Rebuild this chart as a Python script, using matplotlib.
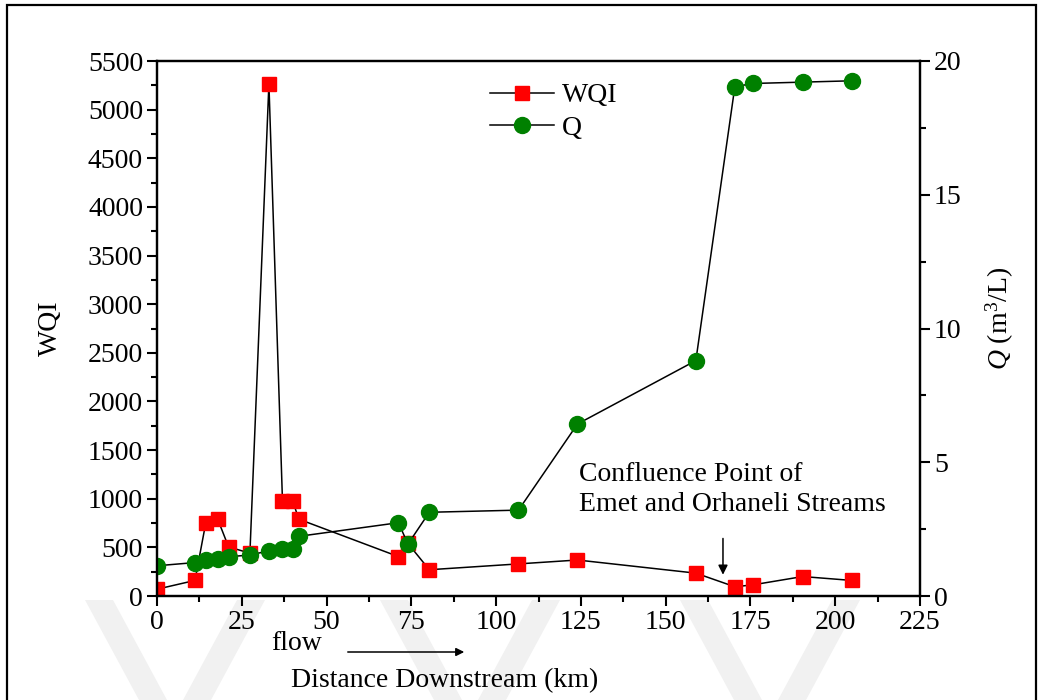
import matplotlib
matplotlib.use('Agg')
import matplotlib.pyplot as plt
from matplotlib.patches import Rectangle, Polygon, FancyArrowPatch
from matplotlib.ticker import MultipleLocator

# distance downstream (km) of the sampling points
distance = [0, 11.2, 14.4, 17.9, 21.1, 27.4, 33.0, 37.0, 40.0, 41.8,
            71.2, 74.0, 80.3, 106.6, 124.0, 158.9, 170.4, 175.8, 190.4, 204.9]
# water quality index
wqi = [70, 160, 755, 790, 505, 440, 5265, 980, 980, 790,
       405, 540, 270, 330, 370, 235, 95, 115, 200, 160]
# flow Q (m3/L)
q = [1.13, 1.25, 1.33, 1.38, 1.47, 1.53, 1.69, 1.74, 1.76, 2.23,
     2.74, 1.94, 3.13, 3.21, 6.43, 8.80, 19.04, 19.16, 19.21, 19.26]

plt.rcParams['font.family'] = 'Liberation Serif'
plt.rcParams['mathtext.fontset'] = 'custom'
plt.rcParams['mathtext.rm'] = 'Liberation Serif'
plt.rcParams['mathtext.it'] = 'Liberation Serif:italic'

FS = 20
fig = plt.figure(figsize=(10.46, 7), dpi=100)
W, H = 1046, 700

# faint watermark stripes at the bottom, under everything
for xc in [175, 470, 770]:
    for s in (-1, 1):
        pts = [(xc + s * 90, 600), (xc + s * 62, 600), (xc + s * 8, 700), (xc + s * 36, 700)]
        fig.patches.append(Polygon([(px / W, 1 - py / H) for px, py in pts], closed=True,
                                   transform=fig.transFigure, facecolor='#f1f1f1',
                                   edgecolor='none', zorder=-5))

ax = fig.add_axes([157 / W, 1 - 596 / H, (920 - 157) / W, (596 - 61) / H])
ax2 = ax.twinx()
ax.patch.set_alpha(0)

ax.plot(distance, wqi, color='black', lw=1.1, marker='s', markersize=10,
        markerfacecolor='red', markeredgecolor='red', label='WQI')
ax2.plot(distance, q, color='black', lw=1.1, marker='o', markersize=11.5,
         markerfacecolor='green', markeredgecolor='green', label='Q')

ax.set_xlim(0, 225)
ax.set_ylim(0, 5500)
ax2.set_ylim(0, 20)
ax.xaxis.set_major_locator(MultipleLocator(25))
ax.xaxis.set_minor_locator(MultipleLocator(12.5))
ax.yaxis.set_major_locator(MultipleLocator(500))
ax.yaxis.set_minor_locator(MultipleLocator(250))
ax2.yaxis.set_major_locator(MultipleLocator(5))
ax2.yaxis.set_minor_locator(MultipleLocator(2.5))

for a in (ax, ax2):
    for sp in a.spines.values():
        sp.set_linewidth(1.6)
    a.tick_params(which='major', direction='out', length=7, width=1.5, labelsize=FS, pad=3)
    a.tick_params(which='minor', direction='out', length=4, width=1.5)

ax.set_ylabel('WQI', fontsize=FS, labelpad=18)

h1, l1 = ax.get_legend_handles_labels()
h2, l2 = ax2.get_legend_handles_labels()
ax2.legend(h1 + h2, l1 + l2, loc='upper left', bbox_to_anchor=(0.422, 0.98),
           frameon=False, fontsize=FS, handlelength=2.3, handletextpad=0.3,
           numpoints=1, borderaxespad=0, labelspacing=0.25)

ax.text(124.5, 810, 'Confluence Point of\nEmet and Orhaneli Streams', fontsize=FS,
        ha='left', va='bottom', linespacing=1.3)
ax.annotate('', xy=(166.9, 190), xytext=(166.9, 620),
            arrowprops=dict(arrowstyle='-|>', color='black', lw=1.1, mutation_scale=14))

fig.text(1000 / W, 1 - 318 / H, r'$Q$ (m$^3$/L)', rotation=90, fontsize=FS,
         ha='center', va='center')
fig.text(297 / W, 1 - 643 / H, 'flow', fontsize=FS, ha='center', va='center')
fig.patches.append(FancyArrowPatch(
    (345 / W, 1 - 652 / H), (467 / W, 1 - 652 / H), transform=fig.transFigure,
    arrowstyle='-|>', mutation_scale=12, color='black', lw=1.1))
fig.text(445 / W, 1 - 681 / H, 'Distance Downstream (km)', fontsize=FS,
         ha='center', va='center')

# frame round the whole figure
fig.patches.append(Rectangle((7 / W, -0.01), (1036 - 7) / W, 1 - 5 / H + 0.01,
                             transform=fig.transFigure, fill=False, lw=1.6,
                             edgecolor='black'))

fig.savefig('out.png', dpi=100)
